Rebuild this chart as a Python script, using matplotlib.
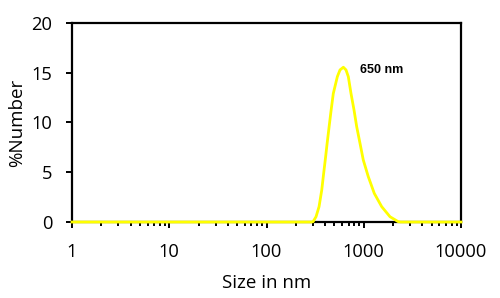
import matplotlib
matplotlib.use("Agg")
import matplotlib.pyplot as plt
from matplotlib.ticker import LogLocator, NullFormatter

# Data
size_nm = [1, 100, 290, 301, 323, 347, 370, 384, 406, 419, 442, 460, 486, 535, 570, 617,
           657, 694, 739, 794, 846, 915, 989, 1113, 1283, 1530, 1862, 2265, 2400, 5000, 10000]
pct_number = [0, 0, 0, 0.03, 0.53, 1.54, 3.22, 4.6, 6.6, 7.8, 9.7, 11.1, 12.9, 14.6, 15.28, 15.55,
              15.28, 14.6, 12.93, 11.26, 9.58, 7.91, 6.23, 4.56, 2.88, 1.54, 0.53, 0.03, 0, 0, 0]
x_ticks = [1, 10, 100, 1000, 10000]
x_tick_labels = ["1", "10", "100", "1000", "10000"]
y_ticks = [0, 5, 10, 15, 20]
peak_label = "650 nm"
peak_label_pos = (915, 15.0)

fig = plt.figure(figsize=(5.0, 2.98), dpi=100)
ax = fig.add_axes([0.144, 0.255, 0.778, 0.668])

ax.plot(size_nm, pct_number, color="#FFFF00", lw=2.0, zorder=5, clip_on=False,
        solid_joinstyle="round")
ax.set_xscale("log")
ax.set_xlim(1, 10000)
ax.set_ylim(0, 20)

font = "Open Sans"
fs = 13.2
ax.set_xticks(x_ticks)
ax.set_xticklabels(x_tick_labels, fontfamily=font, fontsize=fs)
ax.set_yticks(y_ticks)
ax.set_yticklabels([str(v) for v in y_ticks], fontfamily=font, fontsize=fs)
ax.xaxis.set_minor_locator(LogLocator(base=10, subs=range(2, 10), numticks=50))
ax.xaxis.set_minor_formatter(NullFormatter())

ax.tick_params(axis="x", which="major", direction="out", length=4.3, width=1.4, pad=10.5)
ax.tick_params(axis="y", which="major", direction="out", length=4.3, width=1.4, pad=10)
ax.tick_params(axis="x", which="minor", direction="out", length=2.8, width=1.4)
ax.tick_params(top=False, right=False)

for sp in ax.spines.values():
    sp.set_linewidth(1.6)
    sp.set_color("black")

ax.set_xlabel("Size in nm", fontfamily=font, fontsize=13.5, labelpad=10)
ax.set_ylabel("%Number", fontfamily=font, fontsize=13.5, labelpad=3.5)

ax.text(peak_label_pos[0], peak_label_pos[1], peak_label,
        fontfamily="Liberation Sans", fontweight="bold", fontsize=9.0,
        ha="left", va="baseline")

fig.savefig("out.png", dpi=100)
